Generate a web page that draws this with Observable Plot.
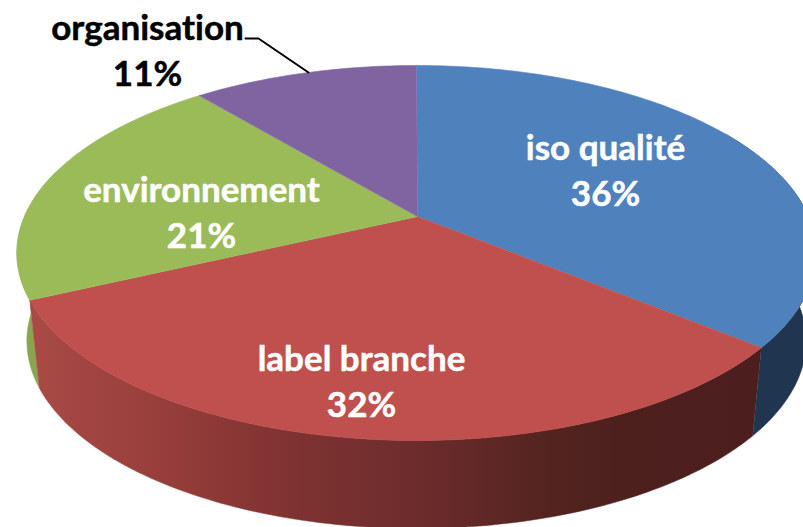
<!DOCTYPE html>
<html>
<head>
<meta charset="utf-8">
<script src="https://cdn.jsdelivr.net/npm/d3@7"></script>
<script src="https://cdn.jsdelivr.net/npm/@observablehq/plot@0.6"></script>
<style>html,body{margin:0;padding:0;background:#fff;overflow:hidden}svg{display:block}svg text{font-variant-ligatures:none}</style>
</head>
<body>
<div id="chart"></div>
<script>
const categories = ["iso qualité", "label branche", "environnement", "organisation"];
const shares = [36, 32, 21, 11];
const topColors = ["#4f81bd", "#c0504d", "#9bbb59", "#8064a2"];
const labelColors = ["#fff", "#fff", "#fff", "#000"];
const labelX = [605, 361, 201, 147];
const labelY = [168, 379, 210, 48];
const blueWallColor = "#1f3550";
const greenWallColor = "#89a64e";
const redStopX = [30, 150, 270, 417, 550, 620, 760];
const redStopColor = ["#a94a46", "#993f3c", "#823432", "#6c2c2c", "#53241f", "#4d201e", "#4c1f1e"];
const leaderX = [245, 258, 308];
const leaderY = [38, 38, 72];

// perspective projection of the tilted disc
const apex = [417, 216], a = 180.4, b = 392, k = 0.1946, shift = -1;
const rim = (deg, depth = 0) => {
  const t = deg * Math.PI / 180, u = Math.sin(t), v = Math.cos(t), d = 1 + k * v;
  const s = depth ? 0.975 : 1;
  return {x: apex[0] + shift + s * b * u / d, y: apex[1] + depth + a * (-v) / d};
};
const arcPts = (a0, a1, depth = 0) => d3.range(Math.abs(a1 - a0) + 1).map(i =>
  rim(a0 + Math.sign(a1 - a0) * Math.min(i, Math.abs(a1 - a0)), depth)).concat([rim(a1, depth)]);

let acc = 0;
const slices = shares.map((s, i) => {
  const a0 = acc * 3.6; acc += s; const a1 = acc * 3.6;
  return {name: categories[i], a0, a1, color: topColors[i],
    face: [{x: apex[0], y: apex[1]}, ...arcPts(a0, a1)]};
});
const band = (a0, a1) => [...arcPts(a0, a1), ...arcPts(a1, a0, 88)];

const base = {x: "x", y: "y", clip: true, curve: "linear"};
const gradient = (_, scales) => {
  const defs = d3.create("svg:defs");
  const g = defs.append("linearGradient").attr("id", "redwall")
    .attr("gradientUnits", "userSpaceOnUse")
    .attr("x1", scales.x(redStopX[0])).attr("x2", scales.x(redStopX[redStopX.length - 1]))
    .attr("y1", 0).attr("y2", 0);
  const span = redStopX[redStopX.length - 1] - redStopX[0];
  redStopX.forEach((x, i) => g.append("stop").attr("offset", (x - redStopX[0]) / span).attr("stop-color", redStopColor[i]));
  return defs.node();
};

const labels = categories.map((c, i) => ({text: `${c}\n${shares[i]}%`, x: labelX[i], y: labelY[i], color: labelColors[i]}));

const plot = Plot.plot({
  width: 803, height: 527,
  margin: 0,
  x: {domain: [0, 803], range: [0, 803], axis: null},
  y: {domain: [0, 527], range: [0, 527], axis: null},
  marks: [
    gradient,
    Plot.line(band(slices[0].a0 + 60, slices[0].a1), {...base, fill: blueWallColor, stroke: blueWallColor, strokeWidth: 0.5}),
    Plot.line(band(slices[2].a0, slices[2].a0 + 40), {...base, fill: greenWallColor, stroke: greenWallColor, strokeWidth: 0.5}),
    Plot.line(band(slices[1].a0, slices[1].a1), {...base, fill: "url(#redwall)", stroke: "url(#redwall)", strokeWidth: 0.5}),
    ...slices.map(s => Plot.line(s.face, {...base, fill: s.color, stroke: s.color, strokeWidth: 0.6})),
    Plot.line(leaderX.map((x, i) => ({x, y: leaderY[i]})), {...base, stroke: "#000", strokeWidth: 2}),
    Plot.text(labels, {x: "x", y: "y", text: "text", fill: "color", stroke: "color", strokeWidth: 0.5, fontFamily: "Lato", fontWeight: 700, fontSize: 35, lineHeight: 1.31, textAnchor: "middle"})
  ]
});
document.getElementById("chart").append(plot);
</script>
</body>
</html>
